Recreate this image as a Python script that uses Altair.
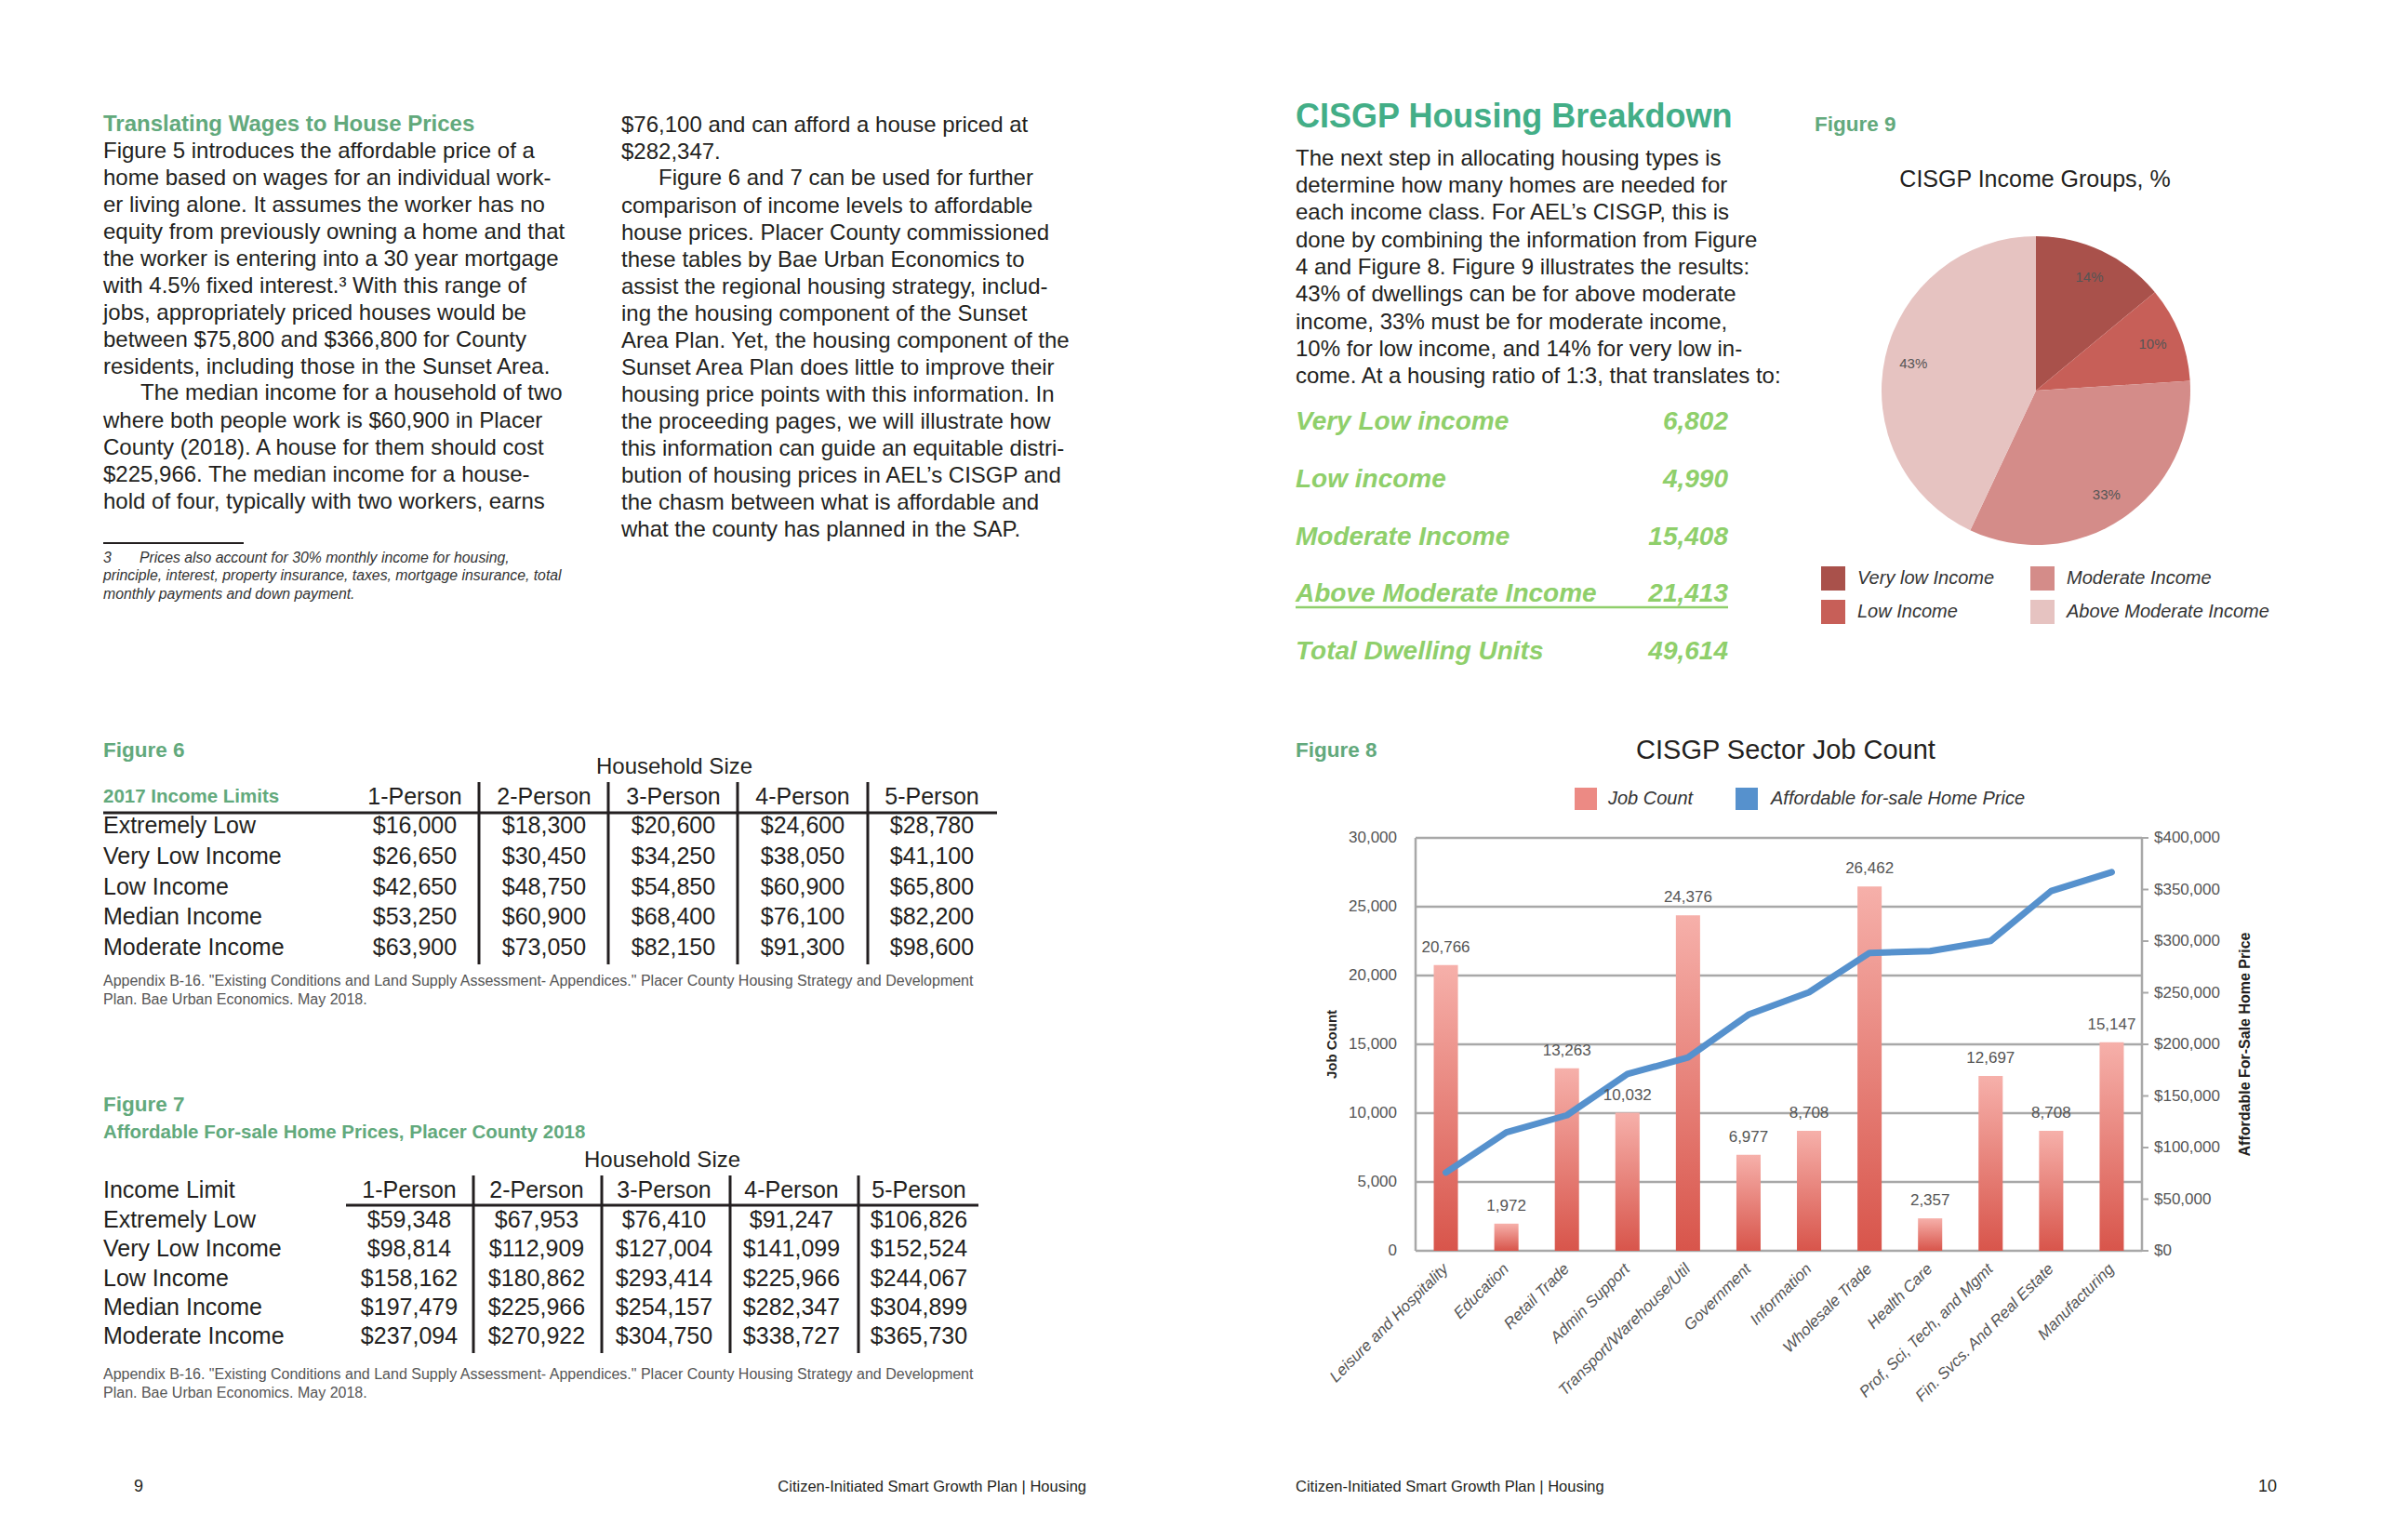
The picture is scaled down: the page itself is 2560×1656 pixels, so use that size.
import altair as alt
import pandas as pd

# ------------------------------------------------------------------ data
SECTORS = ["Leisure and Hospitality", "Education", "Retail Trade", "Admin Support",
           "Transport/Warehouse/Util", "Government", "Information", "Wholesale Trade",
           "Health Care", "Prof, Sci, Tech, and Mgmt", "Fin. Svcs. And Real Estate",
           "Manufacturing"]
JOB_COUNT = [20766, 1972, 13263, 10032, 24376, 6977, 8708, 26462, 2357, 12697, 8708, 15147]
HOME_PRICE = [75800, 114700, 131300, 171200, 187200, 228800, 250400, 288600, 290300,
              300200, 348500, 366800]
JOB_TICKS = [0, 5000, 10000, 15000, 20000, 25000, 30000]
PRICE_TICKS = [0, 50000, 100000, 150000, 200000, 250000, 300000, 350000, 400000]

INCOME_GROUPS = ["Very low Income", "Low Income", "Moderate Income", "Above Moderate Income"]
INCOME_SHARE = [14, 10, 33, 43]

DWELLING_CLASSES = ["Very Low income", "Low income", "Moderate Income",
                    "Above Moderate Income", "Total Dwelling Units"]
DWELLING_UNITS = [6802, 4990, 15408, 21413, 49614]

HH_SIZES = ["1-Person", "2-Person", "3-Person", "4-Person", "5-Person"]
LIMIT_ROWS = ["Extremely Low", "Very Low Income", "Low Income", "Median Income", "Moderate Income"]
INCOME_LIMITS_2017 = [
    [16000, 18300, 20600, 24600, 28780],
    [26650, 30450, 34250, 38050, 41100],
    [42650, 48750, 54850, 60900, 65800],
    [53250, 60900, 68400, 76100, 82200],
    [63900, 73050, 82150, 91300, 98600],
]
HOME_PRICES_2018 = [
    [59348, 67953, 76410, 91247, 106826],
    [98814, 112909, 127004, 141099, 152524],
    [158162, 180862, 293414, 225966, 244067],
    [197479, 225966, 254157, 282347, 304899],
    [237094, 270922, 304750, 338727, 365730],
]

COL1_A = [
    "Figure 5 introduces the affordable price of a",
    "home based on wages for an individual work-",
    "er living alone. It assumes the worker has no",
    "equity from previously owning a home and that",
    "the worker is entering into a 30 year mortgage",
    "with 4.5% fixed interest.\u00b3 With this range of",
    "jobs, appropriately priced houses would be",
    "between $75,800 and $366,800 for County",
    "residents, including those in the Sunset Area.",
]
COL1_B_FIRST = "The median income for a household of two"
COL1_B = [
    "where both people work is $60,900 in Placer",
    "County (2018). A house for them should cost",
    "$225,966. The median income for a house-",
    "hold of four, typically with two workers, earns",
]
COL2_A = ["$76,100 and can afford a house priced at", "$282,347."]
COL2_B_FIRST = "Figure 6 and 7 can be used for further"
COL2_B = [
    "comparison of income levels to affordable",
    "house prices. Placer County commissioned",
    "these tables by Bae Urban Economics to",
    "assist the regional housing strategy, includ-",
    "ing the housing component of the Sunset",
    "Area Plan. Yet, the housing component of the",
    "Sunset Area Plan does little to improve their",
    "housing price points with this information. In",
    "the proceeding pages, we will illustrate how",
    "this information can guide an equitable distri-",
    "bution of housing prices in AEL\u2019s CISGP and",
    "the chasm between what is affordable and",
    "what the county has planned in the SAP.",
]
FOOTNOTE_FIRST = "Prices also account for 30% monthly income for housing,"
FOOTNOTE_REST = [
    "principle, interest, property insurance, taxes, mortgage insurance, total",
    "monthly payments and down payment.",
]
SOURCE = [
    "Appendix B-16. \"Existing Conditions and Land Supply Assessment- Appendices.\" Placer County Housing Strategy and Development",
    "Plan. Bae Urban Economics.  May 2018.",
]
RIGHT_BODY = [
    "The next step in allocating housing types is",
    "determine how many homes are needed for",
    "each income class. For AEL\u2019s CISGP, this is",
    "done by combining the information from Figure",
    "4 and Figure 8. Figure 9 illustrates the results:",
    "43% of dwellings can be for above moderate",
    "income, 33% must be for moderate income,",
    "10% for low income, and 14% for very low in-",
    "come. At a housing ratio of 1:3, that translates to:",
]
FOOTER = "Citizen-Initiated Smart Growth Plan  | Housing"

# ------------------------------------------------------------------ style
SANS = "Liberation Sans, Arial, Helvetica, sans-serif"
INK = "#231f20"
GREEN = "#62a97c"
TEAL = "#43ae87"
LIME = "#8fcf6b"
GREY = "#555555"
PIE_COLORS = ["#a9514b", "#c75f58", "#d48c89", "#e6c3c1"]
BLUE = "#5691cd"
SALMON = "#ec8a84"
GRID = "#a8a8a8"
BAR_FILL = alt.LinearGradient(
    gradient="linear",
    stops=[alt.GradientStop(color="#f6b0aa", offset=0),
           alt.GradientStop(color="#d8554b", offset=1)],
    x1=0, x2=0, y1=0, y2=1)

OFF = 8
ONE = pd.DataFrame({"k": [0]})
layers = []


def P(v):
    return v - OFF


def label(text, x, cy, size, color=INK, weight="normal", style="normal",
          align="left", angle=0):
    layers.append(
        alt.Chart(ONE).mark_text(align=align, baseline="middle", font=SANS, fontSize=size,
                                 fontWeight=weight, fontStyle=style, color=color,
                                 angle=angle)
        .encode(x=alt.value(P(x)), y=alt.value(P(cy)), text=alt.value(text)))


def block(lines, x, cy, size, lh, color=INK, style="normal"):
    layers.append(
        alt.Chart(ONE).mark_text(align="left", baseline="top", lineHeight=lh, font=SANS,
                                 fontSize=size, fontStyle=style, color=color)
        .encode(x=alt.value(P(x)), y=alt.value(P(cy - 0.47 * size)),
                text=alt.value(lines)))


def hrule(x1, x2, y, w, color=INK):
    layers.append(
        alt.Chart(ONE).mark_rule(color=color, strokeWidth=w)
        .encode(x=alt.value(P(x1)), x2=alt.value(P(x2)), y=alt.value(P(y))))


def vrule(x, y1, y2, w, color=INK):
    layers.append(
        alt.Chart(ONE).mark_rule(color=color, strokeWidth=w)
        .encode(x=alt.value(P(x)), y=alt.value(P(y1)), y2=alt.value(P(y2))))


def swatch(cx, cy, side, color):
    layers.append(
        alt.Chart(ONE).mark_square(size=side * side, color=color, filled=True, opacity=1)
        .encode(x=alt.value(P(cx)), y=alt.value(P(cy))))


def table(values, col_first, col_last, row_first, row_last, head_cy, size=25):
    df = pd.DataFrame([{"row": r, "col": c, "v": values[i][j]}
                       for i, r in enumerate(LIMIT_ROWS) for j, c in enumerate(HH_SIZES)])
    xs = alt.Scale(type="point", domain=HH_SIZES, range=[P(col_first), P(col_last)], padding=0)
    ys = alt.Scale(type="point", domain=LIMIT_ROWS, range=[P(row_first), P(row_last)], padding=0)
    layers.append(
        alt.Chart(df).mark_text(align="center", baseline="middle", font=SANS, fontSize=size,
                                color=INK)
        .encode(x=alt.X("col:N", scale=xs, axis=None),
                y=alt.Y("row:N", scale=ys, axis=None),
                text=alt.Text("v:Q", format="$,.0f")))
    layers.append(
        alt.Chart(pd.DataFrame({"col": HH_SIZES})).mark_text(
            align="center", baseline="middle", font=SANS, fontSize=size, color=INK)
        .encode(x=alt.X("col:N", scale=xs, axis=None), y=alt.value(P(head_cy)),
                text="col:N"))
    layers.append(
        alt.Chart(pd.DataFrame({"row": LIMIT_ROWS})).mark_text(
            align="left", baseline="middle", font=SANS, fontSize=size, color=INK)
        .encode(x=alt.value(P(111)), y=alt.Y("row:N", scale=ys, axis=None), text="row:N"))


# ================================================================ LEFT PAGE
label("Translating Wages to House Prices", 111, 134, 24, GREEN, weight="bold")
block(COL1_A, 111, 162, 24, 29)
label(COL1_B_FIRST, 151, 162 + 9 * 29, 24)
block(COL1_B, 111, 162 + 10 * 29, 24, 29)
block(COL2_A, 668, 134, 24, 29)
label(COL2_B_FIRST, 708, 134 + 2 * 29, 24)
block(COL2_B, 668, 134 + 3 * 29, 24, 29)

hrule(111, 262, 584, 2)
label("3", 111, 600, 15.8, "#333333", style="italic")
label(FOOTNOTE_FIRST, 150, 600, 15.8, "#333333", style="italic")
block(FOOTNOTE_REST, 111, 619.5, 15.8, 19.5, "#333333", style="italic")

# Figure 6
label("Figure 6", 111, 807, 22.5, GREEN, weight="bold")
label("Household Size", 725, 825, 24, align="center")
label("2017 Income Limits", 111, 857, 20.5, GREEN, weight="bold")
table(INCOME_LIMITS_2017, 446, 1002, 888, 1019, 857)
hrule(111, 1072, 874, 3)
for vx in [515, 654, 793, 933]:
    vrule(vx, 841, 1037, 3)
block(SOURCE, 111, 1055, 16, 20, GREY)

# Figure 7
label("Figure 7", 111, 1188, 22.5, GREEN, weight="bold")
label("Affordable For-sale Home Prices, Placer County 2018", 111, 1218, 20.5, GREEN,
      weight="bold")
label("Household Size", 712, 1248, 24, align="center")
label("Income Limit", 111, 1280, 25)
table(HOME_PRICES_2018, 440, 988, 1312, 1437, 1280)
hrule(372, 1052, 1296, 3)
for vx in [509, 647, 785, 923]:
    vrule(vx, 1264, 1455, 3)
block(SOURCE, 111, 1478, 16, 20, GREY)

label("9", 144, 1599, 18)
label(FOOTER, 1168, 1599, 16.5, align="right")

# ================================================================ RIGHT PAGE
label("CISGP Housing Breakdown", 1393, 126, 36, TEAL, weight="bold")
block(RIGHT_BODY, 1393, 170, 24, 29.3)

dw = pd.DataFrame({"cls": DWELLING_CLASSES, "units": DWELLING_UNITS})
dys = alt.Scale(type="point", domain=DWELLING_CLASSES, range=[P(454), P(701)], padding=0)
layers.append(
    alt.Chart(dw).mark_text(align="left", baseline="middle", font=SANS, fontSize=28,
                            fontWeight="bold", fontStyle="italic", color=LIME)
    .encode(x=alt.value(P(1393)), y=alt.Y("cls:N", scale=dys, axis=None), text="cls:N"))
layers.append(
    alt.Chart(dw).mark_text(align="right", baseline="middle", font=SANS, fontSize=28,
                            fontWeight="bold", fontStyle="italic", color=LIME)
    .encode(x=alt.value(P(1858)), y=alt.Y("cls:N", scale=dys, axis=None),
            text=alt.Text("units:Q", format=",")))
hrule(1393, 1858, 653, 2.5, LIME)

# Figure 9 – pie
label("Figure 9", 1951, 134, 22.5, GREEN, weight="bold")
label("CISGP Income Groups, %", 2188, 193, 25, align="center")
pie = pd.DataFrame({"group": INCOME_GROUPS, "pct": INCOME_SHARE,
                    "slice_order": list(range(len(INCOME_GROUPS)))})
theta = alt.Theta("pct:Q", stack=True)
layers.append(
    alt.Chart(pie).mark_arc(outerRadius=166)
    .encode(theta=theta,
            color=alt.Color("group:N", scale=alt.Scale(domain=INCOME_GROUPS, range=PIE_COLORS),
                            legend=None),
            order=alt.Order("slice_order:Q"),
            x=alt.value(P(2189)), y=alt.value(P(420))))
layers.append(
    alt.Chart(pie).transform_calculate(lbl="datum.pct + '%'")
    .mark_text(radius=135, font=SANS, fontSize=15, color=GREY)
    .encode(theta=theta, order=alt.Order("slice_order:Q"), text="lbl:N",
            x=alt.value(P(2189)), y=alt.value(P(420))))
for (cx, cy), name, col in zip([(1971, 622), (1971, 658), (2196, 622), (2196, 658)],
                               INCOME_GROUPS, PIE_COLORS):
    swatch(cx, cy, 26, col)
    label(name, cx + 26, cy, 20, "#333333", style="italic")

# Figure 8 – bars + line
label("Figure 8", 1393, 807, 22.5, GREEN, weight="bold")
label("CISGP Sector Job Count", 1920, 807, 29, align="center")
swatch(1705, 859, 24, SALMON)
label("Job Count", 1729, 859, 20, "#333333", style="italic")
swatch(1878, 859, 24, BLUE)
label("Affordable for-sale Home Price", 1904, 859, 20, "#333333", style="italic")

XL, XR, YB, YT = 1522, 2303, 1345, 901
xband = alt.Scale(type="band", domain=SECTORS, range=[P(XL), P(XR)],
                  paddingInner=0.6, paddingOuter=0.3)
xpt = alt.Scale(type="point", domain=SECTORS, range=[P(XL), P(XR)], padding=0.5)
yjobs = alt.Scale(domain=[0, 30000], range=[P(YB), P(YT)], nice=False, zero=True)
yprice = alt.Scale(domain=[0, 400000], range=[P(YB), P(YT)], nice=False, zero=True)

jt = pd.DataFrame({"t": JOB_TICKS})
pt = pd.DataFrame({"p": PRICE_TICKS})
layers.append(
    alt.Chart(jt).mark_rule(color=GRID, strokeWidth=2.5)
    .encode(y=alt.Y("t:Q", scale=yjobs, axis=None), x=alt.value(P(XL)), x2=alt.value(P(XR))))
vrule(XL, YT, YB, 2.5, GRID)
vrule(XR, YT, YB, 2.5, GRID)
layers.append(
    alt.Chart(pt).mark_rule(color=GRID, strokeWidth=2)
    .encode(y=alt.Y("p:Q", scale=yprice, axis=None), x=alt.value(P(XR)),
            x2=alt.value(P(XR + 7))))
layers.append(
    alt.Chart(jt).mark_text(align="right", baseline="middle", font=SANS, fontSize=17,
                            color=GREY)
    .encode(y=alt.Y("t:Q", scale=yjobs, axis=None), x=alt.value(P(1502)),
            text=alt.Text("t:Q", format=",")))
layers.append(
    alt.Chart(pt).mark_text(align="left", baseline="middle", font=SANS, fontSize=17,
                            color=GREY)
    .encode(y=alt.Y("p:Q", scale=yprice, axis=None), x=alt.value(P(2316)),
            text=alt.Text("p:Q", format="$,")))
label("Job Count", 1432, 1123, 15, INK, weight="bold", align="center", angle=270)
label("Affordable For-Sale Home Price", 2414, 1123, 16, INK, weight="bold",
      align="center", angle=270)

sec = pd.DataFrame({"sector": SECTORS, "jobs": JOB_COUNT, "price": HOME_PRICE})
layers.append(
    alt.Chart(sec).mark_bar(color=BAR_FILL)
    .encode(x=alt.X("sector:N", scale=xband, axis=None),
            y=alt.Y("jobs:Q", scale=yjobs, axis=None)))
layers.append(
    alt.Chart(sec).mark_line(color=BLUE, strokeWidth=7, strokeCap="round",
                             strokeJoin="round")
    .encode(x=alt.X("sector:N", scale=xpt, axis=None),
            y=alt.Y("price:Q", scale=yprice, axis=None)))
layers.append(
    alt.Chart(sec).mark_text(align="center", baseline="middle", dy=-19, font=SANS,
                             fontSize=17, color=GREY)
    .encode(x=alt.X("sector:N", scale=xpt, axis=None),
            y=alt.Y("jobs:Q", scale=yjobs, axis=None),
            text=alt.Text("jobs:Q", format=",")))
layers.append(
    alt.Chart(sec).mark_text(align="right", baseline="middle", angle=315, font=SANS,
                             fontSize=17, fontStyle="italic", color=GREY)
    .encode(x=alt.X("sector:N", scale=xpt, axis=None), y=alt.value(P(1362)),
            text="sector:N"))

label(FOOTER, 1393, 1599, 16.5)
label("10", 2448, 1599, 18, align="right")

# ================================================================ assemble
chart = (
    alt.layer(*layers)
    .resolve_scale(x="independent", y="independent")
    .properties(width=2544, height=1640, padding=0, background="white",
                autosize=alt.AutoSizeParams(type="none"))
    .configure_view(stroke=None)
)
chart.save("out.html", embed_options={"renderer": "svg", "actions": False})
